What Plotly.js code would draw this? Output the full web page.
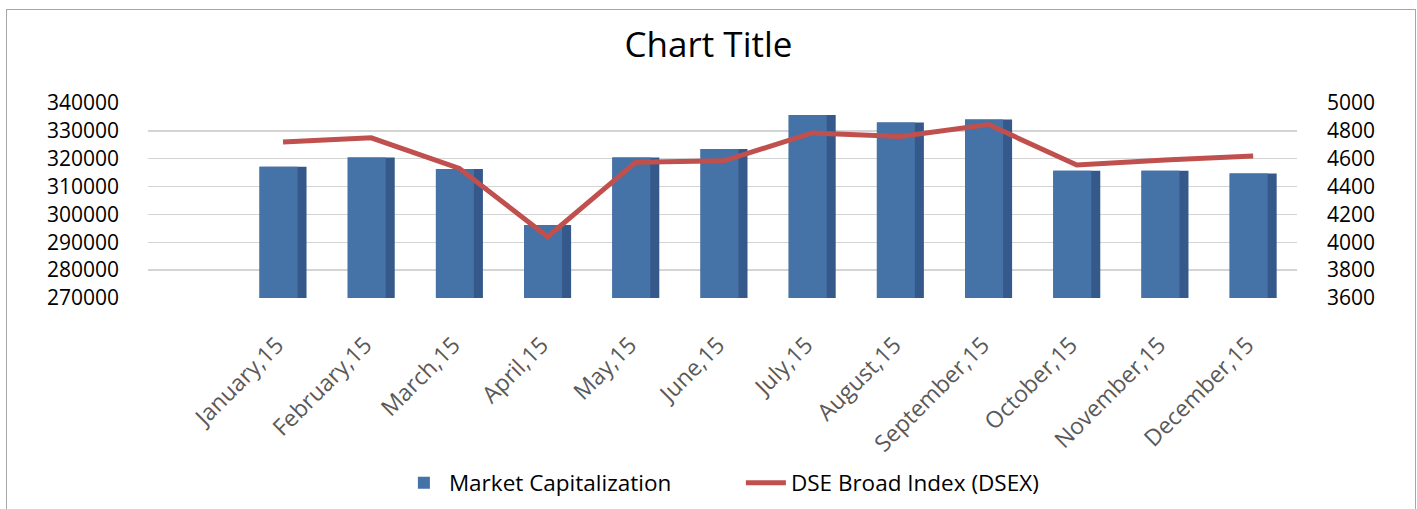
<!DOCTYPE html>
<html>
<head>
<meta charset="utf-8">
<script src="https://cdn.plot.ly/plotly-3.0.1.min.js"></script>
<style>
html,body{margin:0;padding:0;background:#fff;}
#chart{position:absolute;left:0;top:0;width:1417px;height:509px;}
#frame{position:absolute;left:6px;top:9px;width:1410px;height:540px;border:1px solid #a6a6a6;box-sizing:border-box;pointer-events:none;}
</style>
</head>
<body>
<div id="chart"></div>
<div id="frame"></div>
<script>
const months = ["January,15","February,15","March,15","April,15","May,15","June,15",
                "July,15","August,15","September,15","October,15","November,15","December,15"];
const marketCap = [317100, 320400, 316300, 296200, 320400, 323500,
                   335700, 333000, 334100, 315700, 315700, 314700];
const dsex = [4720, 4750, 4530, 4040, 4575, 4585, 4785, 4760, 4845, 4555, 4590, 4620];
const leftTicks = [270000, 280000, 290000, 300000, 310000, 320000, 330000, 340000];
const rightTicks = [3600, 3800, 4000, 4200, 4400, 4600, 4800, 5000];

const FONT = '"Open Sans", "Noto Sans", sans-serif';

const traces = [
  { // side face of 3D column
    type: 'bar', x: months, y: marketCap, yaxis: 'y',
    marker: {color: '#35598a', line: {width: 0}},
    width: 0.533, offset: -0.2665, showlegend: false, hoverinfo: 'skip'
  },
  { // front face
    type: 'bar', name: 'Market Capitalization', x: months, y: marketCap, yaxis: 'y',
    marker: {color: '#4572a7', line: {width: 0}},
    width: 0.431, offset: -0.2665
  },
  {
    type: 'scatter', mode: 'lines', name: 'DSE Broad Index (DSEX)', x: months, y: dsex, yaxis: 'y2',
    line: {color: '#c0504d', width: 5}
  }
];

const layout = {
  width: 1417, height: 509,
  paper_bgcolor: 'rgba(0,0,0,0)', plot_bgcolor: 'rgba(0,0,0,0)',
  margin: {l: 148, r: 120, t: 103, b: 211},
  barmode: 'overlay',
  font: {family: FONT, color: '#000'},
  title: {text: 'Chart Title', font: {family: FONT, size: 35, color: '#000'},
          x: 0.5, xref: 'container', xanchor: 'center', y: 1 - 45/509, yref: 'container', yanchor: 'middle'},
  xaxis: {
    type: 'category', range: [-1.531, 11.497],
    tickangle: -45, tickfont: {family: FONT, size: 23, color: '#595959'},
    showgrid: false, zeroline: false, showline: false, ticks: '',
    ticklabelstandoff: 28, ticklabelshift: -6
  },
  yaxis: {
    range: [270000, 340000], tickvals: leftTicks, ticktext: leftTicks.map(String),
    tickfont: {family: FONT, size: 21, color: '#000'},
    showgrid: true, gridcolor: '#d4d4d4', gridwidth: 1.5, zeroline: false, showline: false, ticks: '',
    ticklabelstandoff: 28
  },
  yaxis2: {
    overlaying: 'y', side: 'right', range: [3600, 5000], tickvals: rightTicks, ticktext: rightTicks.map(String),
    tickfont: {family: FONT, size: 21, color: '#000'},
    showgrid: false, zeroline: false, showline: false, ticks: '',
    ticklabelstandoff: 29
  },
  legend: {
    orientation: 'h', x: 0.516, xanchor: 'center', y: 1 - 483/509, yref: 'container', yanchor: 'middle',
    font: {family: FONT, size: 22.5, color: '#000'}, traceorder: 'normal', itemwidth: 40,
    entrywidth: 287
  },
  showlegend: true
};

Plotly.newPlot('chart', traces, layout, {displayModeBar: false, staticPlot: true});
</script>
</body>
</html>
